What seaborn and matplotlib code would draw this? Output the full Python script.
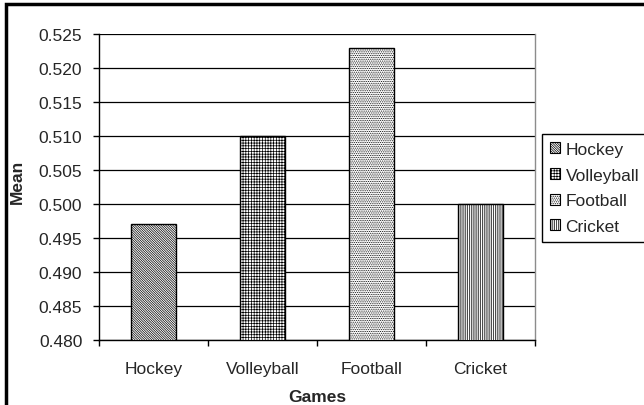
import matplotlib
matplotlib.use("Agg")
import matplotlib.pyplot as plt
from matplotlib.patches import Patch, Rectangle
from matplotlib.ticker import FixedLocator, FormatStrFormatter
import seaborn as sns
import pandas as pd

# Mean score per game
games = ["Hockey", "Volleyball", "Football", "Cricket"]
means = [0.497, 0.510, 0.523, 0.500]
hatches = ["\\" * 14, "+" * 6, "." * 9, "|" * 9]
y_ticks = [0.480, 0.485, 0.490, 0.495, 0.500, 0.505, 0.510, 0.515, 0.520, 0.525]

sns.set_style("white")
plt.rcParams["font.family"] = ["Liberation Sans", "DejaVu Sans"]
plt.rcParams["hatch.linewidth"] = 0.5
FS = 12.5

df = pd.DataFrame({"Games": games, "Mean": means})

fig = plt.figure(figsize=(6.44, 4.06), dpi=100)
ax = fig.add_axes([99 / 644, 1 - 341 / 406, 436 / 644, 306 / 406])

sns.barplot(data=df, x="Games", y="Mean", hue="Games", palette=["white"] * 4,
            edgecolor="black", linewidth=1.0, width=0.41, dodge=False,
            legend=False, ax=ax, zorder=3)
for bar, h in zip(ax.patches, hatches):
    bar.set_hatch(h)

ax.set_ylim(0.480, 0.525)
ax.set_xlim(-0.5, 3.5)
ax.yaxis.set_major_locator(FixedLocator(y_ticks))
ax.yaxis.set_major_formatter(FormatStrFormatter("%.3f"))
ax.yaxis.grid(True, color="black", linewidth=0.9, zorder=0)
ax.set_axisbelow(True)

# category labels centred under bars, tick marks on category boundaries
ax.set_xticks(range(len(games)))
ax.set_xticklabels(games)
ax.tick_params(axis="x", which="major", length=0, pad=15, labelsize=FS)
ax.set_xticks([-0.5, 0.5, 1.5, 2.5, 3.5], minor=True)
ax.tick_params(axis="x", which="minor", direction="out", length=4, width=1,
               color="black", bottom=True)
ax.tick_params(axis="y", direction="out", length=4, width=1, color="black",
               left=True, labelsize=FS, pad=8)

for side in ("left", "bottom"):
    ax.spines[side].set_color("black")
    ax.spines[side].set_linewidth(1.0)
ax.spines["top"].set_visible(False)
ax.spines["right"].set_color("#8c8c8c")
ax.spines["right"].set_linewidth(1.0)

ax.set_xlabel("Games", fontsize=FS, fontweight="bold")
ax.set_ylabel("Mean", fontsize=FS, fontweight="bold")
ax.xaxis.set_label_coords(317 / 644, 1 - 398 / 406, transform=fig.transFigure)
ax.yaxis.set_label_coords(17 / 644, 1 - 182 / 406, transform=fig.transFigure)
ax.xaxis.label.set_va("center")
ax.yaxis.label.set_va("center")
ax.yaxis.label.set_ha("center")

handles = [Patch(facecolor="white", edgecolor="black", hatch=h, linewidth=0.8, label=g)
           for g, h in zip(games, hatches)]
fig.legend(handles=handles, loc="upper left",
           bbox_to_anchor=(542 / 644, 1 - 135 / 406),
           frameon=True, fancybox=False, edgecolor="black", fontsize=FS,
           handlelength=0.6, handleheight=0.6, handletextpad=0.3,
           labelspacing=0.62, borderpad=0.45, borderaxespad=0,
           framealpha=1)

# outer chart border
fig.add_artist(Rectangle((5.5 / 644, -0.05), 1.2, 1.05 - 5 / 406,
                         transform=fig.transFigure, fill=False,
                         edgecolor="black", linewidth=2.5))

fig.savefig("out.png", dpi=100)
